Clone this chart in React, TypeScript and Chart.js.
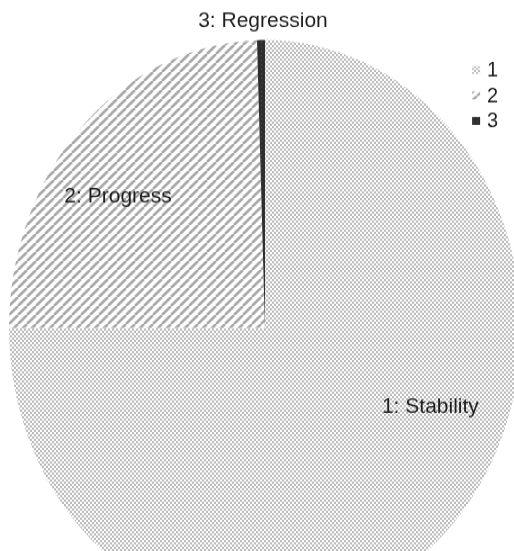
import React, { useEffect, useRef } from "react";
import { Chart, registerables } from "chart.js";

Chart.register(...registerables);

const categories = ["1", "2", "3"];
const categoryNames = ["Stability", "Progress", "Regression"];
const values = [75, 24.5, 0.5];

// the reference pie is drawn slightly taller than wide
const STRETCH_Y = 1.125;

function makeDots(): CanvasPattern | string {
  const c = document.createElement("canvas");
  c.width = 4;
  c.height = 4;
  const x = c.getContext("2d")!;
  x.fillStyle = "#ffffff";
  x.fillRect(0, 0, 4, 4);
  x.fillStyle = "#bcbcbc";
  x.fillRect(0, 0, 2, 2);
  x.fillRect(2, 2, 2, 2);
  return x.createPattern(c, "repeat") || "#d8d8d8";
}

function makeHatch(): CanvasPattern | string {
  const c = document.createElement("canvas");
  const w = 9;
  const h = 8;
  c.width = w;
  c.height = h;
  const x = c.getContext("2d")!;
  x.fillStyle = "#ffffff";
  x.fillRect(0, 0, w, h);
  x.strokeStyle = "#a8a8a8";
  x.lineWidth = 2.5;
  for (const o of [-w, 0, w]) {
    x.beginPath();
    x.moveTo(o, h);
    x.lineTo(o + w, 0);
    x.stroke();
  }
  return x.createPattern(c, "repeat") || "#cccccc";
}

function makeDark(): CanvasPattern | string {
  const c = document.createElement("canvas");
  c.width = 4;
  c.height = 4;
  const x = c.getContext("2d")!;
  x.fillStyle = "#2e2e2e";
  x.fillRect(0, 0, 4, 4);
  x.fillStyle = "#555555";
  x.fillRect(1, 1, 1, 1);
  return x.createPattern(c, "repeat") || "#333333";
}

const FONT = "'Liberation Sans', Arial, Helvetica, sans-serif";

export default function App() {
  const ref = useRef<HTMLCanvasElement>(null);
  useEffect(() => {
    if (!ref.current) return;
    const fills = [makeDots(), makeHatch(), makeDark()];
    // label placement relative to pie centre, in units of x / y radius (baseline)
    const labelPos = [
      [0.646, 0.295],
      [-0.574, -0.4375],
      [-0.008, -1.045],
    ];
    const overlay = {
      id: "overlay",
      afterDraw(chart: any) {
        const ctx = chart.ctx as CanvasRenderingContext2D;
        const arc = chart.getDatasetMeta(0).data[0] as any;
        const cx = arc.x;
        const cy = arc.y * STRETCH_Y;
        const rx = arc.outerRadius;
        const ry = arc.outerRadius * STRETCH_Y;
        ctx.save();
        ctx.scale(1, 1 / STRETCH_Y);
        ctx.fillStyle = "#1e1e1e";
        ctx.font = `21px ${FONT}`;
        ctx.textAlign = "center";
        ctx.textBaseline = "alphabetic";
        chart.data.labels.forEach((lab: string, i: number) => {
          const [fx, fy] = labelPos[i];
          ctx.fillText(`${lab}: ${categoryNames[i]}`, cx + fx * rx, cy + fy * ry);
        });
        // legend
        ctx.font = `20px ${FONT}`;
        ctx.textAlign = "left";
        ctx.textBaseline = "middle";
        const lx = cx + 0.809 * rx;
        const ly = cy - 0.896 * ry;
        chart.data.labels.forEach((lab: string, i: number) => {
          const y = ly + i * 25.5;
          ctx.fillStyle = fills[i] as any;
          ctx.fillRect(lx, y - 4, 8, 8);
          ctx.fillStyle = "#1e1e1e";
          ctx.fillText(lab, lx + 15, y + 1);
        });
        ctx.restore();
      },
    };
    const chart = new Chart(ref.current, {
      type: "pie",
      data: {
        labels: categories,
        datasets: [
          {
            data: values,
            backgroundColor: fills as any,
            borderWidth: 0,
          },
        ],
      },
      options: {
        animation: false,
        responsive: false,
        layout: { padding: { left: 9, right: 9, top: 35.5, bottom: 35.5 } },
        plugins: {
          legend: { display: false },
          tooltip: { enabled: false },
        },
      },
      plugins: [overlay],
    });
    return () => chart.destroy();
  }, []);
  return (
    <div
      style={{
        position: "fixed",
        left: 0,
        top: 0,
        width: 514,
        height: 551,
        overflow: "hidden",
        background: "#ffffff",
      }}
    >
      <div style={{ transform: `scaleY(${STRETCH_Y})`, transformOrigin: "0 0" }}>
        <canvas ref={ref} width={530} height={583} style={{ display: "block" }} />
      </div>
    </div>
  );
}
